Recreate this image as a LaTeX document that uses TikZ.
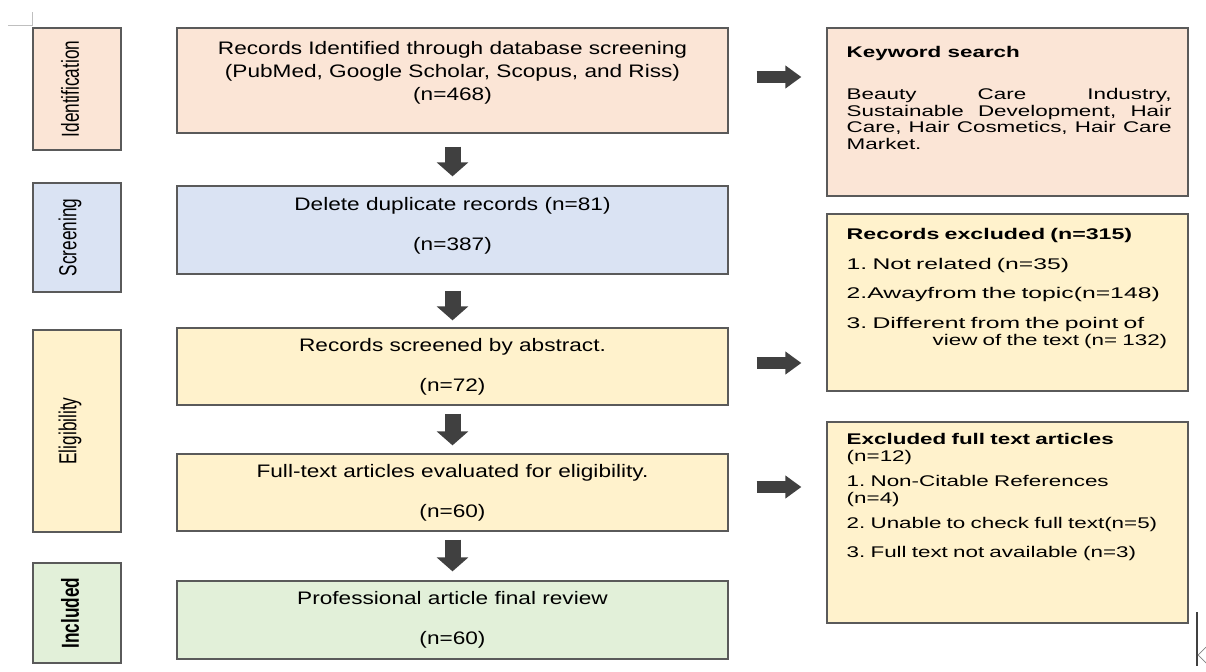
\documentclass[tikz,border=0pt]{standalone}
\usepackage{fontspec}
\setmainfont{Liberation Sans}
\newfontfamily\boxfont{Liberation Sans}[FakeStretch=1.25]
\newfontfamily\sidefont{Liberation Sans}[FakeStretch=1.45]
\newfontfamily\widefont{Liberation Sans}[FakeStretch=1.6, BoldFeatures={FakeStretch=1.5}]
\newfontfamily\stagefont{Liberation Sans}[FakeStretch=0.7]
\usetikzlibrary{arrows.meta,shadows}
\definecolor{idfill}{HTML}{FBE5D6}
\definecolor{scfill}{HTML}{DAE3F3}
\definecolor{elfill}{HTML}{FFF2CC}
\definecolor{infill}{HTML}{E2F0D9}
\definecolor{edge}{HTML}{5A5A5A}
\definecolor{fat}{HTML}{404040}
\tikzset{
  box/.style={draw=edge, line width=0.75pt, inner sep=0pt,
    drop shadow={shadow xshift=0.03cm, shadow yshift=-0.03cm, opacity=0.25}},
  stagebox/.style={box, minimum width=1.76cm},
  stagetext/.style={rotate=90, inner sep=0pt,
    font=\stagefont\fontsize{14}{16}\selectfont},
  mainbox/.style={box, minimum width=11.02cm},
  sidebox/.style={box, minimum width=7.22cm},
  mtext/.style={align=center, inner sep=0pt,
    font=\boxfont\fontsize{10.3}{13.1}\selectfont\frenchspacing},
  stext/.style={anchor=north west, text width=6.5cm, inner sep=0pt,
    font=\sidefont\fontsize{8.8}{9.4}\selectfont\frenchspacing},
  fatdown/.style={draw=fat, line width=0.32cm, -{Triangle[length=0.28cm, width=0.62cm]}},
  fatright/.style={draw=fat, line width=0.24cm, -{Triangle[length=0.32cm, width=0.44cm]},
    shorten <=0.56cm, shorten >=0.5cm}
}
\begin{document}
\begin{tikzpicture}[x=0.02cm, y=-0.02cm]
\useasboundingbox (0,0) rectangle (1206,672);
\draw[gray!50, line width=0.4pt] (8,25) -- (32,25) -- (32,12);

\node[stagebox, fill=idfill, minimum height=2.44cm] (ident) at (77,89) {};
\node[stagebox, fill=scfill, minimum height=2.18cm] (screen) at (77,237.5) {};
\node[stagebox, fill=elfill, minimum height=4.04cm] (elig) at (77,431) {};
\node[stagebox, fill=infill, minimum height=2.0cm] (incl) at (77,613) {};
\node[stagetext] (identt) at ([xshift=-0.14cm]ident.center) {Identification};
\node[stagetext] (screent) at ([xshift=-0.14cm]screen.center) {Screening};
\node[stagetext] (eligt) at ([xshift=-0.14cm]elig.center) {Eligibility};
\node[stagetext] (inclt) at ([xshift=-0.14cm]incl.center) {\bfseries Included};

\node[mainbox, fill=idfill, minimum height=2.1cm] (m1) at (452.5,80.5) {};
\node[mainbox, fill=scfill, minimum height=1.76cm] (m2) at (452.5,230) {};
\node[mainbox, fill=elfill, minimum height=1.54cm] (m3) at (452.5,366.5) {};
\node[mainbox, fill=elfill, minimum height=1.54cm] (m4) at (452.5,492.5) {};
\node[mainbox, fill=infill, minimum height=1.56cm] (m5) at (452.5,620) {};

\node[mtext] (m1t) at ([yshift=0.15cm]m1.center) {Records Identified through database screening\\(PubMed, Google Scholar, Scopus, and Riss)\\(n=468)};
\node[mtext] (m2t) at ([yshift=0.08cm]m2.center) {Delete duplicate records (n=81)\\[9.7pt](n=387)};
\node[mtext] (m3t) at (m3.center) {Records screened by abstract.\\[9.7pt](n=72)};
\node[mtext] (m4t) at (m4.center) {Full-text articles evaluated for eligibility.\\[9.7pt](n=60)};
\node[mtext] (m5t) at (m5.center) {Professional article final review\\[9.7pt](n=60)};

\node[sidebox, fill=idfill, minimum height=3.36cm] (kw) at (1007.5,112) {};
\node[sidebox, fill=elfill, minimum height=3.54cm] (rex) at (1007.5,302.5) {};
\node[sidebox, fill=elfill, minimum height=4.02cm] (fex) at (1007.5,522.5) {};

\node[stext, align=justify] (kwt) at ([xshift=0.4cm, yshift=-0.38cm]kw.north west)
  {\textbf{Keyword search}\par\vspace{14.5pt}
   Beauty Care Industry,\linebreak Sustainable Development, Hair\linebreak
   Care, Hair Cosmetics, Hair Care\linebreak Market.};
\node[stext, align=left, text width=6.8cm, font=\widefont\fontsize{8.8}{9.4}\selectfont\frenchspacing] (rext)
  at ([xshift=0.4cm, yshift=-0.29cm]rex.north west)
  {\textbf{Records excluded (n=315)}\par\vspace{7.5pt}
   1. Not related (n=35)\par\vspace{7.5pt}
   2.Awayfrom the topic(n=148)\par\vspace{7.5pt}
   3. Different from the point of\\\hspace*{1.72cm}{\sidefont view of the text (n= 132)}};
\node[stext, align=left] (fext) at ([xshift=0.4cm, yshift=-0.24cm]fex.north west)
  {\textbf{Excluded full text articles}\\(n=12)\par\vspace{5pt}
   1. Non-Citable References\\(n=4)\par\vspace{5pt}
   2. Unable to check full text(n=5)\par\vspace{7pt}
   3. Full text not available (n=3)};

\draw[fatdown, shorten <=0.26cm, shorten >=0.18cm] (m1) -- (m2);
\draw[fatdown, shorten <=0.32cm, shorten >=0.14cm] (m2) -- (m3);
\draw[fatdown, shorten <=0.16cm, shorten >=0.16cm] (m3) -- (m4);
\draw[fatdown, shorten <=0.16cm, shorten >=0.18cm] (m4) -- (m5);

\draw[fatright] ([yshift=0.07cm]m1.east) -- ([yshift=0.07cm]m1.east -| kw.west);
\draw[fatright] ([yshift=0.07cm]m3.east) -- ([yshift=0.07cm]m3.east -| rex.west);
\draw[fatright] ([yshift=0.11cm]m4.east) -- ([yshift=0.11cm]m4.east -| fex.west);

\draw[black!75, line width=0.6pt] (1197,612) -- (1197,666);
\draw[gray, line width=0.4pt] (1206,647) -- (1198,655) -- (1206,663);
\end{tikzpicture}
\end{document}
